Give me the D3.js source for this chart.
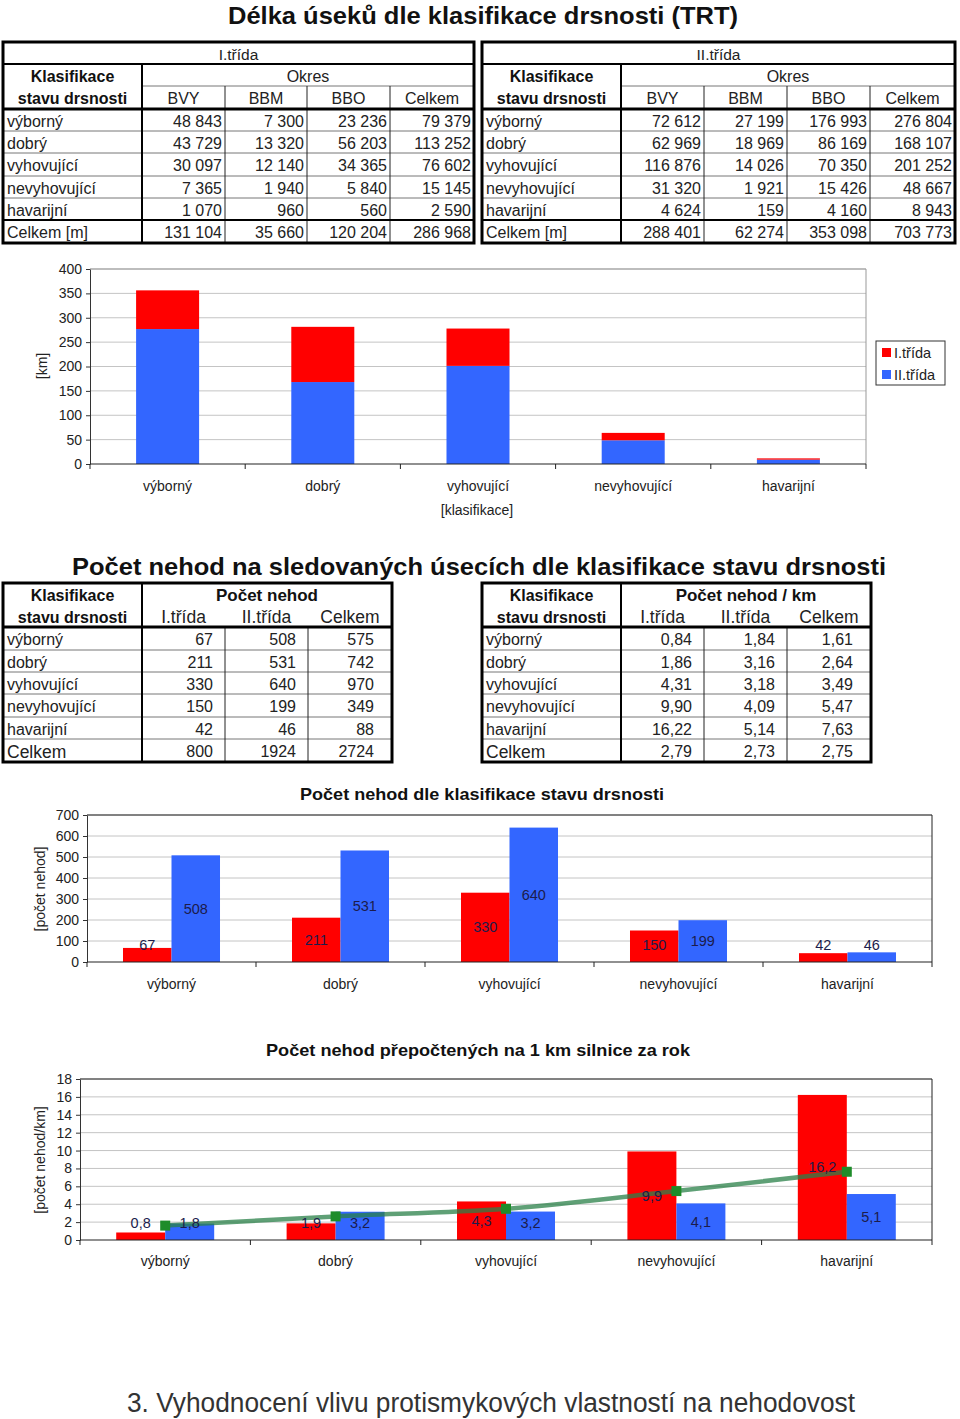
<!DOCTYPE html>
<html><head><meta charset="utf-8">
<script src="https://cdn.jsdelivr.net/npm/d3@7"></script>
<style>
body{margin:0;background:#fff}
svg{display:block}
text{font-family:"Liberation Sans",Arial,Helvetica,sans-serif;fill:#111}
</style>
</head><body><svg id="c" width="960" height="1419"></svg>
<script>
// ---------------- DATA ----------------
const categories = ["výborný","dobrý","vyhovující","nevyhovující","havarijní"];
const districts = ["BVY","BBM","BBO","Celkem"];
const classNames = ["I.třída","II.třída"];
// lengths [m] by district (BVY, BBM, BBO, Celkem)
const lenI  = [[48843,7300,23236,79379],[43729,13320,56203,113252],[30097,12140,34365,76602],[7365,1940,5840,15145],[1070,960,560,2590]];
const lenItotal  = [131104,35660,120204,286968];
const lenII = [[72612,27199,176993,276804],[62969,18969,86169,168107],[116876,14026,70350,201252],[31320,1921,15426,48667],[4624,159,4160,8943]];
const lenIItotal = [288401,62274,353098,703773];
// accidents
const accI = [67,211,330,150,42];
const accII = [508,531,640,199,46];
const accTotal = [575,742,970,349,88];
const accSum = [800,1924,2724];
// accidents per km
const rateI = [0.84,1.86,4.31,9.90,16.22];
const rateII = [1.84,3.16,3.18,4.09,5.14];
const rateTotal = [1.61,2.64,3.49,5.47,7.63];
const rateSum = [2.79,2.73,2.75];
// tick labels
const kmTicks = [0,50,100,150,200,250,300,350,400];
const accTicks = [0,100,200,300,400,500,600,700];
const rateTicks = [0,2,4,6,8,10,12,14,16,18];

// ---------------- HELPERS ----------------
const svg = d3.select("#c");
const loc = d3.formatLocale({decimal:",", thousands:" ", grouping:[3], currency:["",""]});
const fThou = loc.format(",d");
const fDec2 = loc.format(".2f");
const fDec1 = loc.format(".1f");
const RED = "#ff0000", BLUE = "#3366ff";

function txt(g, x, y, s, o={}) {
  const t = g.append("text").attr("x", x).attr("y", y)
    .attr("dominant-baseline", "central")
    .attr("text-anchor", o.anchor || "middle")
    .style("font-size", (o.size || 16) + "px")
    .style("font-weight", o.weight || "normal")
    .text(s);
  if (o.fill) t.style("fill", o.fill);
  if (o.len) t.attr("textLength", o.len).attr("lengthAdjust", "spacingAndGlyphs");
  if (o.rotate) t.attr("transform", `rotate(-90,${x},${y})`);
  return t;
}
function ln(g, x1, y1, x2, y2, w, c) {
  g.append("line").attr("x1", x1).attr("y1", y1).attr("x2", x2).attr("y2", y2)
    .attr("stroke", c || "#000").attr("stroke-width", w);
}

// ---------------- TITLES ----------------
txt(svg, 483, 15, "Délka úseků dle klasifikace drsnosti (TRT)", {size:24, weight:"bold", len:510});
txt(svg, 479, 566, "Počet nehod na sledovaných úsecích dle klasifikace stavu drsnosti", {size:24, weight:"bold", len:814});
txt(svg, 491, 1403, "3. Vyhodnocení vlivu protismykových vlastností na nehodovost", {size:27, fill:"#333", len:728});

// ---------------- LENGTH TABLES ----------------
function lengthTable(cols, rows, cls, data, total) {
  const g = svg.append("g");
  const L = cols[0], R = cols[cols.length-1], T = rows[0], B = rows[rows.length-1];
  for (let i = 4; i <= 7; i++) ln(g, L, rows[i], R, rows[i], 1, "#777");
  ln(g, cols[1], rows[2], R, rows[2], 1, "#777");
  for (let j = 2; j <= 4; j++) ln(g, cols[j], rows[2], cols[j], B, 1, "#222");
  ln(g, L, rows[1], R, rows[1], 2);
  ln(g, L, rows[3], R, rows[3], 3);
  ln(g, L, rows[8], R, rows[8], 2);
  ln(g, cols[1], rows[1], cols[1], B, 2);
  g.append("rect").attr("x", L).attr("y", T).attr("width", R-L).attr("height", B-T)
    .attr("fill", "none").attr("stroke", "#000").attr("stroke-width", 3);
  const mid = i => (rows[i] + rows[i+1]) / 2 + 1;
  txt(g, (L+R)/2, mid(0), cls, {size:15.5, fill:"#222"});
  txt(g, (cols[0]+cols[1])/2, mid(1), "Klasifikace", {size:16, weight:"bold"});
  txt(g, (cols[0]+cols[1])/2, mid(2), "stavu drsnosti", {size:16, weight:"bold"});
  txt(g, (cols[1]+R)/2, mid(1), "Okres", {size:16, fill:"#222"});
  districts.forEach((d, j) => txt(g, (cols[j+1]+cols[j+2])/2, mid(2), d, {size:16, fill:"#222"}));
  const body = data.map((r, i) => [categories[i], r]).concat([["Celkem [m]", total]]);
  body.forEach((r, i) => {
    txt(g, L+4, mid(3+i), r[0], {size:16, anchor:"start", fill:"#222"});
    r[1].forEach((v, j) => txt(g, cols[j+2]-3, mid(3+i), fThou(v), {size:16, anchor:"end", fill:"#222"}));
  });
}
const rowsA = [42,64,86,109,131,153,176,198,220,243];
lengthTable([3,142,225,307,390,474], rowsA, "I.třída", lenI, lenItotal);
lengthTable([482,621,704,787,870,955], rowsA, "II.třída", lenII, lenIItotal);

// ---------------- ACCIDENT TABLES ----------------
function accTable(cols, rows, head, cols3, sum, fmt) {
  const g = svg.append("g");
  const L = cols[0], R = cols[cols.length-1], T = rows[0], B = rows[rows.length-1];
  for (let i = 3; i <= 7; i++) ln(g, L, rows[i], R, rows[i], 1, "#777");
  for (let j = 2; j <= 3; j++) ln(g, cols[j], rows[2], cols[j], B, 1, "#222");
  ln(g, L, rows[2], R, rows[2], 3);
  ln(g, cols[1], T, cols[1], B, 2);
  g.append("rect").attr("x", L).attr("y", T).attr("width", R-L).attr("height", B-T)
    .attr("fill", "none").attr("stroke", "#000").attr("stroke-width", 3);
  const mid = i => (rows[i] + rows[i+1]) / 2 + 1;
  txt(g, (cols[0]+cols[1])/2, mid(0), "Klasifikace", {size:16, weight:"bold"});
  txt(g, (cols[0]+cols[1])/2, mid(1), "stavu drsnosti", {size:16, weight:"bold"});
  txt(g, (cols[1]+R)/2, mid(0), head, {size:17, weight:"bold"});
  ["I.třída","II.třída","Celkem"].forEach((d, j) => txt(g, (cols[j+1]+cols[j+2])/2, mid(1), d, {size:17.5, fill:"#222"}));
  categories.forEach((c, i) => {
    txt(g, L+4, mid(2+i), c, {size:16, anchor:"start", fill:"#222"});
    cols3.forEach((arr, j) => txt(g, cols[j+2]-(j===2?18:12), mid(2+i), fmt(arr[i]), {size:16, anchor:"end", fill:"#222"}));
  });
  txt(g, L+4, mid(7), "Celkem", {size:17.5, anchor:"start", fill:"#222"});
  sum.forEach((v, j) => txt(g, cols[j+2]-(j===2?18:12), mid(7), fmt(v), {size:16, anchor:"end", fill:"#222"}));
}
const rowsB = [583,605,627,650,672,694,717,739,762];
accTable([3,142,225,308,392], rowsB, "Počet nehod", [accI, accII, accTotal], accSum, d3.format("d"));
accTable([482,621,704,787,871], rowsB, "Počet nehod / km", [rateI, rateII, rateTotal], rateSum, fDec2);

// ---------------- AXES HELPER ----------------
function frame(g, x0, x1, y, ticks, borderColor) {
  ticks.filter(d => d > 0).forEach(d => ln(g, x0, y(d), x1, y(d), 1, "#c4c4c4"));
  const [yb, yt] = y.range();
  ln(g, x0, yt, x1, yt, 1, borderColor);
  ln(g, x1, yt, x1, yb, 1, borderColor);
  const ax = g.append("g").attr("transform", `translate(${x0},0)`)
    .call(d3.axisLeft(y).tickValues(ticks).tickSize(4).tickSizeOuter(0).tickPadding(4));
  ax.selectAll("path,line").attr("stroke", "#333");
  ax.selectAll("text").style("font-size", "14px").style("fill", "#222")
    .style("font-family", '"Liberation Sans",Arial,sans-serif');
}
function catAxis(g, x, y0, x0, x1, labelY) {
  ln(g, x0, y0, x1, y0, 1.2, "#222");
  const step = x.step();
  for (let k = 0; k <= categories.length; k++) ln(g, x0 + k*step, y0, x0 + k*step, y0 + 5, 1, "#222");
  categories.forEach(c => txt(g, x(c) + x.bandwidth()/2, labelY, c, {size:14, fill:"#222"}));
}
function barLabel(g, cx, ytop, y0, s) {
  const cy = Math.min((ytop + y0) / 2, y0 - 17);
  txt(g, cx, cy, s, {size:14.5, fill:"#1c1c4c"});
}

// ---------------- CHART 1: stacked lengths ----------------
{
  const g = svg.append("g");
  const X0 = 90, X1 = 866;
  const y = d3.scaleLinear().domain([0,400]).range([464,269]);
  const x = d3.scaleBand().domain(categories).range([X0, X1]).paddingInner(0.594).paddingOuter(0.297);
  frame(g, X0, X1, y, kmTicks, "#999");
  const rowsData = categories.map((c, i) => ({cat:c, II: lenII[i][3]/1000, I: lenI[i][3]/1000}));
  const stack = d3.stack().keys(["II","I"])(rowsData);
  const col = {II: BLUE, I: RED};
  stack.forEach(s => {
    g.append("g").selectAll("rect").data(s).join("rect")
      .attr("x", d => x(d.data.cat)).attr("width", x.bandwidth())
      .attr("y", d => y(d[1])).attr("height", d => y(d[0]) - y(d[1]))
      .attr("fill", col[s.key]);
  });
  catAxis(g, x, 464, X0, X1, 486);
  txt(g, 42, 366, "[km]", {size:14, rotate:true, fill:"#222"});
  txt(g, 477, 510, "[klasifikace]", {size:14, fill:"#222"});
  // legend
  g.append("rect").attr("x", 876).attr("y", 341).attr("width", 69).attr("height", 44)
    .attr("fill", "#fff").attr("stroke", "#333").attr("stroke-width", 1);
  [[RED, classNames[0]], [BLUE, classNames[1]]].forEach(([c, n], i) => {
    g.append("rect").attr("x", 882).attr("y", 348 + i*22).attr("width", 9).attr("height", 9).attr("fill", c);
    txt(g, 894, 352.5 + i*22, n, {size:14.5, anchor:"start", fill:"#222"});
  });
}

// ---------------- CHART 2: accidents ----------------
{
  const g = svg.append("g");
  const X0 = 87, X1 = 932, Y0 = 962;
  txt(g, 482, 794, "Počet nehod dle klasifikace stavu drsnosti", {size:17, weight:"bold", len:364});
  const y = d3.scaleLinear().domain([0,700]).range([Y0,815]);
  const x = d3.scaleBand().domain(categories).range([X0, X1]).paddingInner(0.426).paddingOuter(0.213);
  const xs = d3.scaleBand().domain(["I","II"]).range([0, x.bandwidth()]);
  frame(g, X0, X1, y, accTicks, "#222");
  categories.forEach((c, i) => {
    [["I", accI[i], RED], ["II", accII[i], BLUE]].forEach(([k, v, col]) => {
      const bx = x(c) + xs(k);
      g.append("rect").attr("x", bx).attr("width", xs.bandwidth()).attr("y", y(v)).attr("height", Y0 - y(v)).attr("fill", col);
      barLabel(g, bx + xs.bandwidth()/2, y(v), Y0, String(v));
    });
  });
  catAxis(g, x, Y0, X0, X1, 984);
  txt(g, 40, 889, "[počet nehod]", {size:14, rotate:true, fill:"#222"});
}

// ---------------- CHART 3: rates ----------------
{
  const g = svg.append("g");
  const X0 = 80, X1 = 932, Y0 = 1240;
  txt(g, 478, 1050, "Počet nehod přepočtených na 1 km silnice za rok", {size:17, weight:"bold", len:424});
  const y = d3.scaleLinear().domain([0,18]).range([Y0,1079]);
  const x = d3.scaleBand().domain(categories).range([X0, X1]).paddingInner(0.425).paddingOuter(0.2125);
  const xs = d3.scaleBand().domain(["I","II"]).range([0, x.bandwidth()]);
  frame(g, X0, X1, y, rateTicks, "#222");
  const labels = g.append("g");
  categories.forEach((c, i) => {
    [["I", rateI[i], RED], ["II", rateII[i], BLUE]].forEach(([k, v, col]) => {
      const bx = x(c) + xs(k);
      g.append("rect").attr("x", bx).attr("width", xs.bandwidth()).attr("y", y(v)).attr("height", Y0 - y(v)).attr("fill", col);
      barLabel(labels, bx + xs.bandwidth()/2, y(v), Y0, fDec1(v));
    });
  });
  const cx = c => x(c) + x.bandwidth()/2;
  const line = d3.line().x((d, i) => cx(categories[i])).y(d => y(d)).curve(d3.curveMonotoneX);
  g.append("path").datum(rateTotal).attr("d", line).attr("fill", "none")
    .attr("stroke", "#2a8048").attr("stroke-opacity", 0.75).attr("stroke-width", 4.5);
  g.append("g").selectAll("rect").data(rateTotal).join("rect")
    .attr("x", (d, i) => cx(categories[i]) - 5).attr("y", d => y(d) - 5)
    .attr("width", 10).attr("height", 10).attr("fill", "#1e8c2a");
  labels.raise();
  catAxis(g, x, Y0, X0, X1, 1261);
  txt(g, 40, 1160, "[počet nehod/km]", {size:14, rotate:true, fill:"#222"});
}
</script>
</body></html>
